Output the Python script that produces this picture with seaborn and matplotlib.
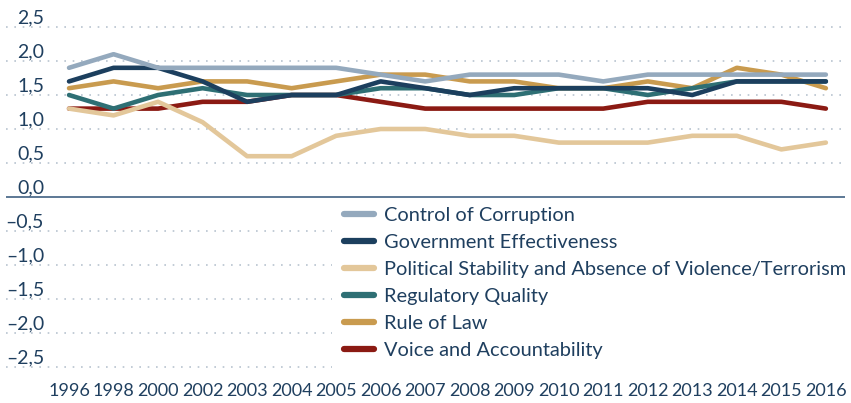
import matplotlib
matplotlib.use("Agg")
import matplotlib.pyplot as plt
import seaborn as sns
import pandas as pd
import numpy as np

# Data
years = ["1996", "1998", "2000", "2002", "2003", "2004", "2005", "2006", "2007",
         "2008", "2009", "2010", "2011", "2012", "2013", "2014", "2015", "2016"]

control_of_corruption = [1.9, 2.1, 1.9, 1.9, 1.9, 1.9, 1.9, 1.8, 1.7,
                         1.8, 1.8, 1.8, 1.7, 1.8, 1.8, 1.8, 1.8, 1.8]
government_effectiveness = [1.7, 1.9, 1.9, 1.7, 1.4, 1.5, 1.5, 1.7, 1.6,
                            1.5, 1.6, 1.6, 1.6, 1.6, 1.5, 1.7, 1.7, 1.7]
political_stability = [1.3, 1.2, 1.4, 1.1, 0.6, 0.6, 0.9, 1.0, 1.0,
                       0.9, 0.9, 0.8, 0.8, 0.8, 0.9, 0.9, 0.7, 0.8]
regulatory_quality = [1.5, 1.3, 1.5, 1.6, 1.5, 1.5, 1.5, 1.6, 1.6,
                      1.5, 1.5, 1.6, 1.6, 1.5, 1.6, 1.7, 1.7, 1.7]
rule_of_law = [1.6, 1.7, 1.6, 1.7, 1.7, 1.6, 1.7, 1.8, 1.8,
               1.7, 1.7, 1.6, 1.6, 1.7, 1.6, 1.9, 1.8, 1.6]
voice_accountability = [1.3, 1.3, 1.3, 1.4, 1.4, 1.5, 1.5, 1.4, 1.3,
                        1.3, 1.3, 1.3, 1.3, 1.4, 1.4, 1.4, 1.4, 1.3]

indicators = ["Control of Corruption", "Government Effectiveness",
              "Political Stability and Absence of Violence/Terrorism",
              "Regulatory Quality", "Rule of Law", "Voice and Accountability"]
colors = ["#94A9BD", "#1C3F5E", "#E3C79A", "#2E6F74", "#C99B4F", "#8B1A13"]
y_ticks = [-2.5, -2.0, -1.5, -1.0, -0.5, 0.0, 0.5, 1.0, 1.5, 2.0, 2.5]

series = [control_of_corruption, government_effectiveness, political_stability,
          regulatory_quality, rule_of_law, voice_accountability]
df = pd.concat([pd.DataFrame({"year": years, "value": vals, "indicator": name})
                for name, vals in zip(indicators, series)])

text_color = "#1F3F5F"
sns.set_style("white")
plt.rcParams["font.family"] = ["Lato", "DejaVu Sans"]

fig = plt.figure(figsize=(8.51, 4.03), dpi=100)
ax = fig.add_axes([6 / 851, 1 - 372 / 403, 839 / 851, 370 / 403])

# gridlines (dotted) and solid zero line
for v in y_ticks:
    if v == 0:
        ax.axhline(v, color="#4F6D8C", lw=1.3, zorder=3)
    else:
        ax.axhline(v, color="#B8C4D0", lw=1.2, linestyle=(0, (1, 4)), zorder=1)

# draw in reverse order so the first indicator sits on top
sns.lineplot(data=df, x="year", y="value", hue="indicator",
             hue_order=indicators[::-1], palette=dict(zip(indicators, colors)),
             linewidth=3.3, sort=False, ax=ax, legend=False)
for line in ax.lines[-len(indicators):]:
    line.set_solid_capstyle("round")
    line.set_solid_joinstyle("round")
    line.set_zorder(4)

ax.set_xlim(-1.416, 17.43)
ax.set_ylim(-2.574, 2.868)
ax.set_xlabel("")
ax.set_ylabel("")
ax.set_yticks([])
ax.tick_params(axis="x", length=0, pad=8, labelsize=13, labelcolor=text_color)
for s in ax.spines.values():
    s.set_visible(False)

for v in y_ticks:
    lab = f"{v:.1f}".replace(".", ",").replace("-", "\u2013")
    ax.text(-0.562, v + 0.06, lab, ha="right", va="baseline",
            fontsize=14, color=text_color)

handles = [plt.Line2D([], [], color=c, lw=4.5, solid_capstyle="round") for c in colors]
leg = ax.legend(handles, indicators, loc="upper left",
                bbox_to_anchor=(332 / 851, 1 - 195 / 403),
                bbox_transform=fig.transFigure, borderaxespad=0,
                borderpad=0.6, handlelength=1.5, handletextpad=0.5,
                labelspacing=0.5, fontsize=14.4, frameon=True, fancybox=False,
                facecolor="white", edgecolor="none", framealpha=1)
leg.set_zorder(2)
for t in leg.get_texts():
    t.set_color(text_color)

fig.savefig("out.png", dpi=100)
